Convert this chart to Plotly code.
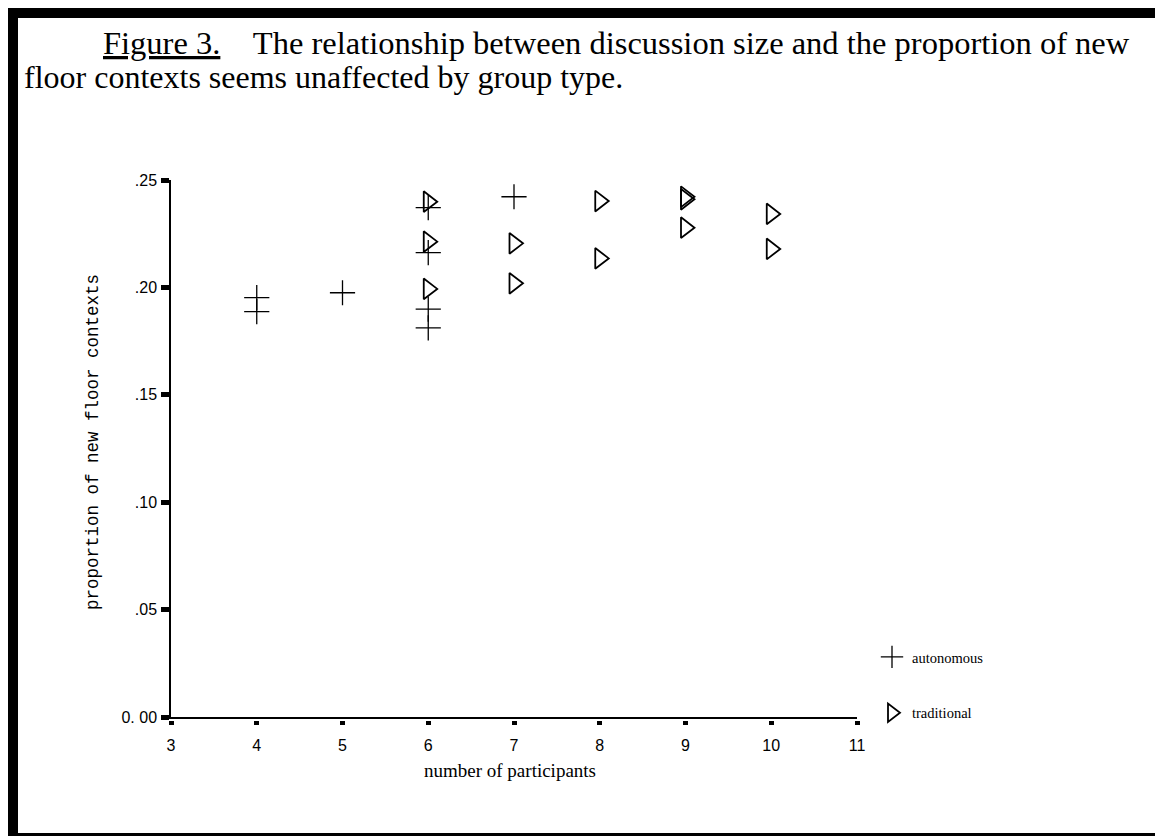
import plotly.graph_objects as go

# ---- data ----
auto_x = [4, 4, 5, 6, 6, 6, 6, 7]
auto_y = [0.1952, 0.1887, 0.1975, 0.2371, 0.2162, 0.1899, 0.1812, 0.2422]

trad_x = [6, 6, 6, 7, 7, 8, 8, 9, 9, 9, 10, 10]
trad_y = [0.2399, 0.2213, 0.1993, 0.2205, 0.2019, 0.2402, 0.2135,
          0.2422, 0.2410, 0.2278, 0.2342, 0.2179]

x_ticks = [3, 4, 5, 6, 7, 8, 9, 10, 11]
x_labels = ["3", "4", "5", "6", "7", "8", "9", "10", "11"]
y_ticks = [0.00, 0.05, 0.10, 0.15, 0.20, 0.25]
y_labels = ["0. 00", ".05", ".10", ".15", ".20", ".25"]

title_line1 = ("<u>Figure 3.</u>\u00a0\u00a0\u00a0\u00a0The relationship between "
               "discussion size and the proportion of new")
title_line2 = "floor contexts seems unaffected by group type."
x_title = "number of participants"
y_title = "proportion of new floor contexts"

# ---- layout geometry (window pixels; page body has an 8px margin) ----
OFF = 8
W, H = 1163 - OFF, 836 - OFF
AX_L, AX_R, AX_T = 171, 857, 180     # plot area edges in window pixels
AX_ZERO = 717                        # y = 0 line
GAP = 3                              # x ticks sit slightly below the axis line
AX_B = AX_ZERO + GAP                 # bottom of the plot area
L, R, T, B = AX_L - OFF, (W + OFF) - AX_R, AX_T - OFF, (H + OFF) - AX_B
PW, PH = W - L - R, H - T - B


def px(xw):
    return (xw - AX_L) / PW


def py(yw):
    return (AX_B - yw) / PH


fig = go.Figure()

fig.add_trace(go.Scatter(
    x=auto_x, y=auto_y, mode="markers", name="autonomous",
    legendgroup="a",
    marker=dict(symbol="cross-thin-open", size=18, color="black",
                line=dict(color="black", width=1.3)),
    cliponaxis=False,
))
fig.add_trace(go.Scatter(
    x=trad_x, y=trad_y, mode="markers", name="traditional",
    legendgroup="t",
    marker=dict(symbol="triangle-right-open", size=18, color="black",
                line=dict(color="black", width=1.8)),
    cliponaxis=False,
))
# empty helper trace so the detached tick axis is drawn
fig.add_trace(go.Scatter(x=[], y=[], xaxis="x2", yaxis="y",
                         showlegend=False, hoverinfo="skip"))

shapes = [
    dict(type="rect", xref="paper", yref="paper",
         x0=px(OFF), x1=px(1163), y0=py(836), y1=py(OFF),
         fillcolor="black", line=dict(width=0), layer="below"),
    dict(type="rect", xref="paper", yref="paper",
         x0=px(18), x1=px(1160), y0=py(833), y1=py(18),
         fillcolor="white", line=dict(width=0), layer="below"),
]

serif = "Liberation Serif, Times New Roman, serif"
annotations = [
    dict(text=title_line1, xref="paper", yref="paper", x=px(101), y=py(43),
         xanchor="left", yanchor="middle", showarrow=False,
         font=dict(family=serif, size=32.5, color="black")),
    dict(text=title_line2, xref="paper", yref="paper", x=px(22), y=py(77),
         xanchor="left", yanchor="middle", showarrow=False,
         font=dict(family=serif, size=32, color="black")),
    dict(text=x_title, xref="paper", yref="paper", x=px(510), y=py(770),
         xanchor="center", yanchor="middle", showarrow=False,
         font=dict(family=serif, size=19, color="black")),
    dict(text=y_title, xref="paper", yref="paper", x=px(93), y=py(442),
         xanchor="center", yanchor="middle", showarrow=False, textangle=-90,
         font=dict(family="Liberation Mono, Courier New, monospace", size=17.5,
                   color="black")),
]

fig.update_layout(
    width=W, height=H,
    margin=dict(l=L, r=R, t=T, b=B, pad=0),
    paper_bgcolor="white", plot_bgcolor="rgba(0,0,0,0)",
    shapes=shapes, annotations=annotations,
    showlegend=True,
    legend=dict(x=px(872), y=py(641), xanchor="left", yanchor="top",
                bgcolor="rgba(0,0,0,0)", tracegroupgap=34,
                font=dict(family=serif, size=14.5, color="black")),
    font=dict(family="Liberation Sans, Arial, sans-serif", color="black"),
    xaxis=dict(
        range=[3, 11], showticklabels=False, ticks="",
        showgrid=False, zeroline=False, showline=True, linecolor="black",
        linewidth=1.5,
    ),
    xaxis2=dict(
        range=[3, 11], overlaying="x", anchor="free", position=0,
        side="bottom", tickvals=x_ticks, ticktext=x_labels,
        showgrid=False, zeroline=False, showline=False,
        ticks="outside", ticklen=4, tickwidth=5, tickcolor="black",
        ticklabelstandoff=7, tickfont=dict(size=16, color="black"),
    ),
    yaxis=dict(
        range=[0, 0.25], domain=[GAP / PH, 1], tickvals=y_ticks,
        ticktext=y_labels,
        showgrid=False, zeroline=False, showline=True, linecolor="black",
        linewidth=1.5, ticks="outside", ticklen=8, tickwidth=5,
        tickcolor="black", ticklabelstandoff=1,
        tickfont=dict(size=16, color="black"),
    ),
)

fig.write_html("out.html")
